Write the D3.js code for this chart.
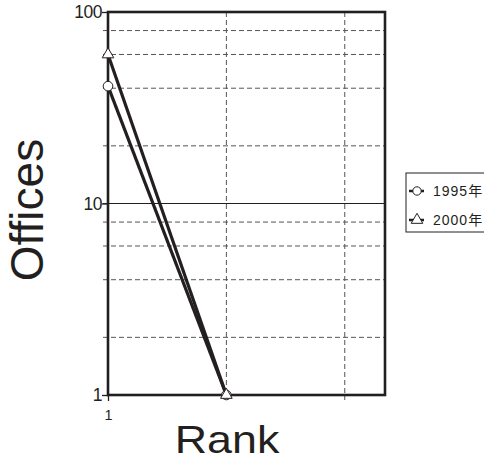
<!DOCTYPE html>
<html>
<head>
<meta charset="utf-8">
<script src="https://cdn.jsdelivr.net/npm/d3@7"></script>
<style>
  html, body { margin: 0; padding: 0; background: #fff; }
  svg { display: block; font-family: "Liberation Sans", Arial, Helvetica, sans-serif; }
</style>
</head>
<body>
<svg id="chart" width="484" height="463"></svg>
<script>
// Ranks on the x axis and office counts for each year
const ranks = [1, 2];
const offices1995 = [41, 1];
const offices2000 = [60, 1];
const seriesNames = ["1995年", "2000年"];
const yMajorTicks = [1, 10, 100];
const yGridValues = [2, 4, 6, 8, 20, 40, 60, 80];
const xGridValues = [2, 3];
const xTickLabels = [1];

const svg = d3.select("#chart");
const ink = "#231f20";

const x = d3.scaleLinear().domain([1, 3.34]).range([108, 385]);
const y = d3.scaleLog().domain([1, 100]).range([395, 12]);
const [x0, x1] = x.range();

// dashed grid lines
const grid = svg.append("g");
grid.selectAll("line.hy").data(yGridValues).join("line")
  .attr("x1", x0 - 5).attr("x2", x1)
  .attr("y1", d => y(d)).attr("y2", d => y(d))
  .attr("stroke", "#555").attr("stroke-width", 1).attr("stroke-dasharray", "5,3");
grid.selectAll("line.vx").data(xGridValues).join("line")
  .attr("x1", d => x(d)).attr("x2", d => x(d))
  .attr("y1", y(100)).attr("y2", y(1) + 5)
  .attr("stroke", "#555").attr("stroke-width", 1).attr("stroke-dasharray", "5,3");
// solid line at 10
grid.append("line")
  .attr("x1", x0 - 5).attr("x2", x1)
  .attr("y1", y(10)).attr("y2", y(10))
  .attr("stroke", ink).attr("stroke-width", 1);

// y axis ticks and labels
const yAxis = d3.axisLeft(y).tickValues(yMajorTicks).tickFormat(d3.format("d")).tickSize(6).tickPadding(0);
const gy = svg.append("g").attr("transform", `translate(${x0},0)`).call(yAxis);
gy.select(".domain").remove();
gy.selectAll(".tick line").attr("stroke", ink).attr("stroke-width", 1.3);
gy.selectAll(".tick text").attr("font-size", 17.5).attr("fill", ink)
  .attr("font-family", "Liberation Sans, Arial, sans-serif").attr("letter-spacing", "-0.5px");

// x axis ticks and labels
const xAxis = d3.axisBottom(x).tickValues(xTickLabels).tickFormat(d3.format("d")).tickSize(6).tickPadding(9);
const gx = svg.append("g").attr("transform", `translate(0,${y(1)})`).call(xAxis);
gx.select(".domain").remove();
gx.selectAll(".tick line").attr("stroke", ink).attr("stroke-width", 1.3);
gx.selectAll(".tick text").attr("font-size", 14.5).attr("fill", ink)
  .attr("font-family", "Liberation Sans, Arial, sans-serif");

// plot frame
svg.append("rect")
  .attr("x", x0).attr("y", y(100))
  .attr("width", x1 - x0).attr("height", y(1) - y(100))
  .attr("fill", "none").attr("stroke", ink).attr("stroke-width", 2.6);

// series lines
const line = d3.line().x((d, i) => x(ranks[i])).y(d => y(d));
[offices1995, offices2000].forEach(vals => {
  svg.append("path").datum(vals)
    .attr("d", line)
    .attr("fill", "none").attr("stroke", ink).attr("stroke-width", 3.2);
});

// markers
const tri = d3.symbol().type(d3.symbolTriangle).size(58);
svg.selectAll("circle.m95").data(offices1995).join("circle")
  .attr("cx", (d, i) => x(ranks[i])).attr("cy", d => y(d)).attr("r", 4.8)
  .attr("fill", "#fff").attr("stroke", ink).attr("stroke-width", 1);
svg.selectAll("path.m00").data(offices2000).join("path")
  .attr("d", tri)
  .attr("transform", (d, i) => `translate(${x(ranks[i])},${y(d)})`)
  .attr("fill", "#fff").attr("stroke", ink).attr("stroke-width", 1);

// axis titles
svg.append("text")
  .attr("transform", "translate(227,453) scale(1.15,1)")
  .attr("text-anchor", "middle").attr("font-size", 39).attr("fill", ink)
  .text("Rank");
svg.append("text")
  .attr("transform", "translate(43,210) rotate(-90)")
  .attr("text-anchor", "middle").attr("font-size", 46).attr("fill", ink)
  .text("Offices");

// legend
const lg = svg.append("g").attr("transform", "translate(406,173)");
lg.append("rect").attr("x", 0).attr("y", 0).attr("width", 90).attr("height", 59)
  .attr("fill", "#fff").attr("stroke", ink).attr("stroke-width", 1);
seriesNames.forEach((name, i) => {
  const cy = 18 + i * 29;
  lg.append("line").attr("x1", 3).attr("x2", 18).attr("y1", cy).attr("y2", cy)
    .attr("stroke", ink).attr("stroke-width", 2.5);
  if (i === 0) {
    lg.append("circle").attr("cx", 11).attr("cy", cy).attr("r", 4.2)
      .attr("fill", "#fff").attr("stroke", ink).attr("stroke-width", 1);
  } else {
    lg.append("path").attr("d", tri).attr("transform", `translate(11,${cy})`)
      .attr("fill", "#fff").attr("stroke", ink).attr("stroke-width", 1);
  }
  lg.append("text").attr("x", 27).attr("y", cy + 5)
    .attr("font-size", 14).attr("fill", ink).attr("letter-spacing", "1px")
    .attr("font-family", "Liberation Sans, 'Noto Sans CJK JP', sans-serif")
    .text(name);
});
</script>
</body>
</html>
